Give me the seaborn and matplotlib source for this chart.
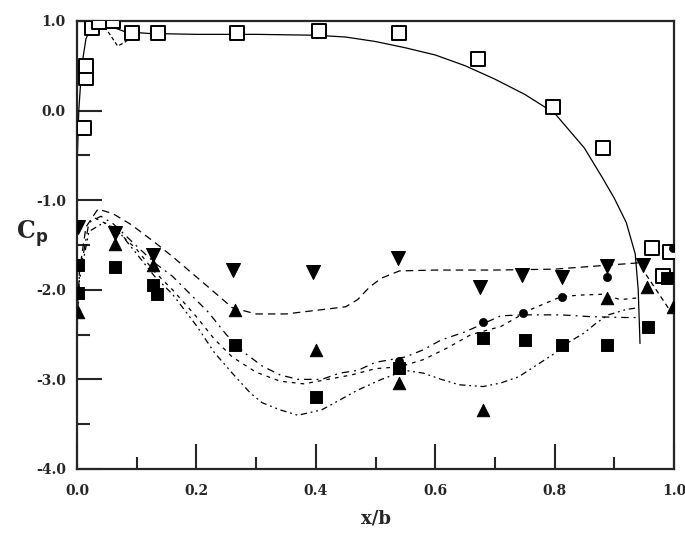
import matplotlib
matplotlib.use('Agg')
import matplotlib.pyplot as plt
import seaborn as sns
import numpy as np

# --- upper surface (open squares + solid theory line)
upper_x = [0.012, 0.015, 0.015, 0.025, 0.037, 0.06, 0.092, 0.136, 0.268, 0.405, 0.54,
           0.672, 0.797, 0.881, 0.963, 0.982, 0.993]
upper_cp = [-0.19, 0.36, 0.50, 0.92, 0.99, 1.0, 0.86, 0.87, 0.87, 0.89, 0.86,
            0.58, 0.04, -0.42, -1.53, -1.85, -1.58]

upper_line_x = [0.0, 0.003, 0.008, 0.015, 0.025, 0.04, 0.06, 0.08, 0.12, 0.2, 0.3, 0.4,
                0.45, 0.5, 0.55, 0.6, 0.65, 0.7, 0.75, 0.8, 0.85, 0.88, 0.9, 0.92,
                0.935, 0.94, 0.943]
upper_line_cp = [-0.65, 0.0, 0.5, 0.8, 0.95, 0.98, 0.93, 0.88, 0.86, 0.85, 0.85, 0.84,
                 0.82, 0.77, 0.70, 0.62, 0.50, 0.35, 0.18, -0.03, -0.42, -0.75, -0.98,
                 -1.25, -1.6, -2.0, -2.6]

dip_x = [0.04, 0.055, 0.068, 0.08, 0.092]
dip_cp = [0.99, 0.85, 0.72, 0.76, 0.83]

# --- lower surface markers
tri_down_x = [0.002, 0.064, 0.128, 0.262, 0.396, 0.538, 0.675, 0.745, 0.812, 0.888, 0.948]
tri_down_cp = [-1.30, -1.37, -1.61, -1.78, -1.80, -1.65, -1.97, -1.84, -1.86, -1.74, -1.72]

tri_up_x = [0.002, 0.064, 0.128, 0.265, 0.40, 0.54, 0.68, 0.888, 0.955, 0.998]
tri_up_cp = [-2.25, -1.49, -1.72, -2.23, -2.67, -3.04, -3.34, -2.09, -1.97, -2.19]

dot_x = [0.54, 0.68, 0.747, 0.812, 0.888, 0.998]
dot_cp = [-2.80, -2.36, -2.26, -2.08, -1.86, -1.53]

sq_x = [0.002, 0.002, 0.064, 0.128, 0.134, 0.265, 0.40, 0.54, 0.68, 0.75, 0.812, 0.888,
        0.956, 0.988]
sq_cp = [-1.72, -2.04, -1.75, -1.95, -2.05, -2.62, -3.2, -2.87, -2.54, -2.56, -2.62, -2.62,
         -2.42, -1.87]

# --- lower surface theory lines
a_x = [0.0, 0.004, 0.015, 0.035, 0.06, 0.09, 0.13, 0.16, 0.19, 0.22, 0.26, 0.3, 0.35, 0.4,
       0.45, 0.47, 0.49, 0.51, 0.54, 0.6, 0.7, 0.8, 0.88, 0.94]
a_cp = [-2.4, -1.8, -1.3, -1.1, -1.15, -1.27, -1.47, -1.63, -1.8, -1.97, -2.2, -2.27, -2.27,
        -2.23, -2.19, -2.11, -1.97, -1.87, -1.79, -1.78, -1.78, -1.77, -1.73, -1.70]

b_x = [0.0, 0.004, 0.02, 0.04, 0.06, 0.09, 0.13, 0.16, 0.19, 0.22, 0.25, 0.28, 0.31, 0.34,
       0.37, 0.41, 0.44, 0.47, 0.5, 0.55, 0.58, 0.61, 0.65, 0.67, 0.71, 0.75, 0.81, 0.86,
       0.92, 0.94]
b_cp = [-2.45, -1.85, -1.25, -1.18, -1.26, -1.45, -1.7, -1.85, -2.05, -2.25, -2.5, -2.7,
        -2.85, -2.95, -3.0, -3.0, -2.93, -2.9, -2.81, -2.75, -2.67, -2.56, -2.47, -2.41,
        -2.29, -2.28, -2.28, -2.3, -2.31, -2.31]

c_x = [0.0, 0.004, 0.02, 0.045, 0.07, 0.1, 0.13, 0.16, 0.2, 0.23, 0.26, 0.29, 0.31, 0.34,
       0.37, 0.41, 0.44, 0.47, 0.51, 0.55, 0.58, 0.61, 0.64, 0.68, 0.71, 0.74, 0.77, 0.8,
       0.82, 0.85, 0.87, 0.89, 0.92, 0.94]
c_cp = [-2.5, -1.9, -1.35, -1.25, -1.35, -1.6, -1.85, -2.05, -2.4, -2.7, -2.93, -3.15,
        -3.26, -3.34, -3.4, -3.34, -3.23, -3.12, -3.0, -2.9, -2.93, -3.0, -3.06, -3.08,
        -3.04, -2.97, -2.84, -2.71, -2.6, -2.48, -2.37, -2.28, -2.22, -2.2]

d_x = [0.03, 0.06, 0.1, 0.13, 0.16, 0.2, 0.23, 0.26, 0.3, 0.34, 0.38, 0.42, 0.46, 0.5,
       0.54, 0.58, 0.62, 0.66, 0.71, 0.76, 0.81, 0.84, 0.88, 0.91, 0.94]
d_cp = [-1.2, -1.3, -1.55, -1.8, -2.0, -2.3, -2.55, -2.75, -2.92, -3.02, -3.05, -3.0,
        -2.95, -2.88, -2.86, -2.78, -2.65, -2.5, -2.41, -2.22, -2.08, -2.06, -2.05, -2.11,
        -2.09]

te_x = [0.945, 0.96, 0.975, 0.99, 1.0]
te_cp = [-1.75, -1.9, -2.05, -2.2, -2.25]

sns.set_style('ticks')
plt.rcParams['font.family'] = ['DejaVu Serif']

fig, ax = plt.subplots(figsize=(6.85, 5.36), dpi=100)
fig.subplots_adjust(left=0.1124, right=0.984, top=0.961, bottom=0.125)

lw = 0.9
sns.lineplot(x=upper_line_x, y=upper_line_cp, sort=False, color='black', linewidth=lw, ax=ax)
sns.lineplot(x=dip_x, y=dip_cp, sort=False, color='black', linewidth=lw, linestyle=(0, (3, 2)), ax=ax)
sns.lineplot(x=a_x, y=a_cp, sort=False, color='black', linewidth=lw, linestyle=(0, (6, 4)), ax=ax)
sns.lineplot(x=b_x, y=b_cp, sort=False, color='black', linewidth=lw, linestyle=(0, (6, 4, 1.5, 4)), ax=ax)
sns.lineplot(x=c_x, y=c_cp, sort=False, color='black', linewidth=lw,
             linestyle=(0, (5, 3, 1.5, 3, 1.5, 3)), ax=ax)
sns.lineplot(x=d_x, y=d_cp, sort=False, color='black', linewidth=lw, linestyle=(0, (3, 4)), ax=ax)
sns.lineplot(x=te_x, y=te_cp, sort=False, color='black', linewidth=lw, linestyle=(0, (4, 3)), ax=ax)

sns.scatterplot(x=upper_x, y=upper_cp, marker='s', s=90, facecolor='white', edgecolor='black',
                linewidth=1.4, ax=ax, zorder=5)
sns.scatterplot(x=sq_x, y=sq_cp, marker='s', s=70, color='black', edgecolor='black', ax=ax, zorder=5)
sns.scatterplot(x=tri_up_x, y=tri_up_cp, marker='^', s=80, color='black', edgecolor='black', ax=ax, zorder=5)
sns.scatterplot(x=tri_down_x, y=tri_down_cp, marker='v', s=100, color='black', edgecolor='black', ax=ax, zorder=5)
sns.scatterplot(x=dot_x, y=dot_cp, marker='o', s=35, color='black', edgecolor='black', ax=ax, zorder=5)

ax.set_xlim(0, 1.0)
ax.set_ylim(-4.0, 1.0)
ax.set_xticks(np.arange(0, 1.01, 0.2))
ax.set_xticks(np.arange(0.1, 1.0, 0.2), minor=True)
ax.set_yticks(np.arange(-4, 1.01, 1.0))
ax.set_yticks(np.arange(-3.5, 1.0, 1.0), minor=True)
ax.set_xticklabels(['0.0', '0.2', '0.4', '0.6', '0.8', '1.0'])
ax.set_yticklabels(['-4.0', '-3.0', '-2.0', '-1.0', '0.0', '1.0'])

ax.tick_params(which='major', direction='in', length=18, width=1.5, labelsize=10, pad=8)
ax.tick_params(which='minor', direction='in', length=9, width=1.5)
ax.tick_params(axis='x', which='major', pad=11)
for lab in ax.get_xticklabels() + ax.get_yticklabels():
    lab.set_fontweight('bold')

for sp in ax.spines.values():
    sp.set_visible(True)
    sp.set_linewidth(1.6)

ax.set_xlabel('x/b', fontsize=13, fontweight='bold', labelpad=8)
ax.set_ylabel('C$_\\mathbf{p}$', fontsize=17, fontweight='bold', rotation=0)
ax.yaxis.set_label_coords(-0.075, 0.49)

fig.savefig('out.png', dpi=100)
